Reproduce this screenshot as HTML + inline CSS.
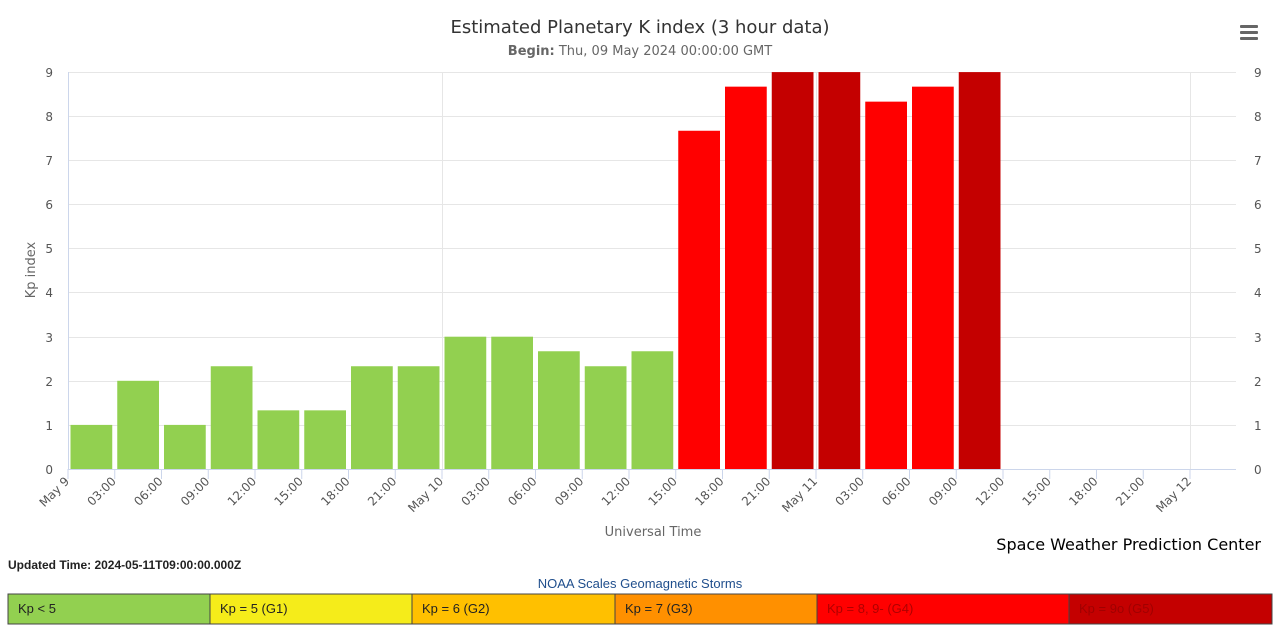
<!DOCTYPE html>
<html><head><meta charset="utf-8"><style>
body{margin:0;background:#fff;font-family:"Liberation Sans","DejaVu Sans",sans-serif;}
</style></head><body>
<svg width="1280" height="635" xmlns="http://www.w3.org/2000/svg" font-family="DejaVu Sans, Liberation Sans, sans-serif">
<rect width="1280" height="635" fill="#fff"/>
<text x="640" y="33" text-anchor="middle" font-size="18" fill="#333">Estimated Planetary K index (3 hour data)</text>
<text x="640" y="55" text-anchor="middle" font-size="13" fill="#666"><tspan font-weight="bold">Begin:</tspan> Thu, 09 May 2024 00:00:00 GMT</text>
<g fill="#666"><rect x="1240" y="25" width="18" height="3" rx="1"/><rect x="1240" y="31" width="18" height="3" rx="1"/><rect x="1240" y="37" width="18" height="3" rx="1"/></g>
<g id="grid" stroke="#e6e6e6" stroke-width="1">
<line x1="68" x2="1236" y1="72.5" y2="72.5"/><line x1="68" x2="1236" y1="116.5" y2="116.5"/><line x1="68" x2="1236" y1="160.5" y2="160.5"/><line x1="68" x2="1236" y1="204.5" y2="204.5"/><line x1="68" x2="1236" y1="248.5" y2="248.5"/><line x1="68" x2="1236" y1="292.5" y2="292.5"/><line x1="68" x2="1236" y1="337.5" y2="337.5"/><line x1="68" x2="1236" y1="381.5" y2="381.5"/><line x1="68" x2="1236" y1="425.5" y2="425.5"/>
<line x1="442.5" x2="442.5" y1="72" y2="469"/><line x1="816.5" x2="816.5" y1="72" y2="469"/><line x1="1190.5" x2="1190.5" y1="72" y2="469"/>
</g>
<line x1="68.5" x2="68.5" y1="72" y2="469" stroke="#ccd6eb"/>
<line x1="68" x2="1236" y1="469.5" y2="469.5" stroke="#ccd6eb"/>
<g font-size="12" fill="#555" text-anchor="end">
<text x="53" y="474">0</text><text x="53" y="430">1</text><text x="53" y="386">2</text><text x="53" y="342">3</text><text x="53" y="297">4</text><text x="53" y="253">5</text><text x="53" y="209">6</text><text x="53" y="165">7</text><text x="53" y="121">8</text><text x="53" y="77">9</text>
</g>
<g font-size="12" fill="#555">
<text x="1254" y="474">0</text><text x="1254" y="430">1</text><text x="1254" y="386">2</text><text x="1254" y="342">3</text><text x="1254" y="297">4</text><text x="1254" y="253">5</text><text x="1254" y="209">6</text><text x="1254" y="165">7</text><text x="1254" y="121">8</text><text x="1254" y="77">9</text>
</g>
<text transform="translate(35,270) rotate(-90)" text-anchor="middle" font-size="13" fill="#666">Kp index</text>
<text x="653" y="536" text-anchor="middle" font-size="13" fill="#666">Universal Time</text>
<g id="bars"></g>
<g id="ticks" stroke="#ccd6eb"></g>
<g id="xl" font-size="12" fill="#555" text-anchor="end"></g>
<text x="1261" y="550" text-anchor="end" font-size="16" fill="#000">Space Weather Prediction Center</text>
<text x="8" y="569" font-size="12" font-weight="bold" fill="#222" font-family="Liberation Sans, sans-serif">Updated Time: 2024-05-11T09:00:00.000Z</text>
<text x="640" y="588" text-anchor="middle" font-size="13" fill="#1f4e8c" font-family="Liberation Sans, sans-serif">NOAA Scales Geomagnetic Storms</text>
<g id="leg" font-size="13" font-family="Liberation Sans, sans-serif"></g>
</svg>
<script>
var NS="http://www.w3.org/2000/svg";
function el(p,t,a,txt){var e=document.createElementNS(NS,t);for(var k in a)e.setAttribute(k,a[k]);if(txt)e.textContent=txt;document.getElementById(p).appendChild(e);}
var v=[1,2,1,2.33,1.33,1.33,2.33,2.33,3,3,2.67,2.33,2.67,7.67,8.67,9,9,8.33,8.67,9];
var s=46.75,y0=469,u=44.1;
v.forEach(function(k,i){var c=k>=9?"#c40000":(k>=5?"#ff0000":"#92d050");
var h=k*u;el("bars","rect",{x:68+i*s+2.5,y:y0-h,width:s-5,height:h,fill:c});});
var lab=["May 9","03:00","06:00","09:00","12:00","15:00","18:00","21:00","May 10","03:00","06:00","09:00","12:00","15:00","18:00","21:00","May 11","03:00","06:00","09:00","12:00","15:00","18:00","21:00","May 12"];
lab.forEach(function(t,i){var x=68+i*s;el("ticks","line",{x1:x,x2:x,y1:469,y2:479});
el("xl","text",{transform:"translate("+(x+2)+",482) rotate(-45)"},t);});
var L=[["Kp < 5","#92d050","#222",8,210],["Kp = 5 (G1)","#f5ec1a","#222",210,412],["Kp = 6 (G2)","#ffc000","#222",412,615],["Kp = 7 (G3)","#ff9000","#222",615,817],["Kp = 8, 9- (G4)","#ff0000","#b00000",817,1069],["Kp = 9o (G5)","#c40000","#a00000",1069,1272]];
L.forEach(function(a){el("leg","rect",{x:a[3],y:594,width:a[4]-a[3],height:30,fill:a[1],stroke:"#444","stroke-width":1});
el("leg","text",{x:a[3]+10,y:613,fill:a[2]},a[0]);});
</script>
</body></html>
